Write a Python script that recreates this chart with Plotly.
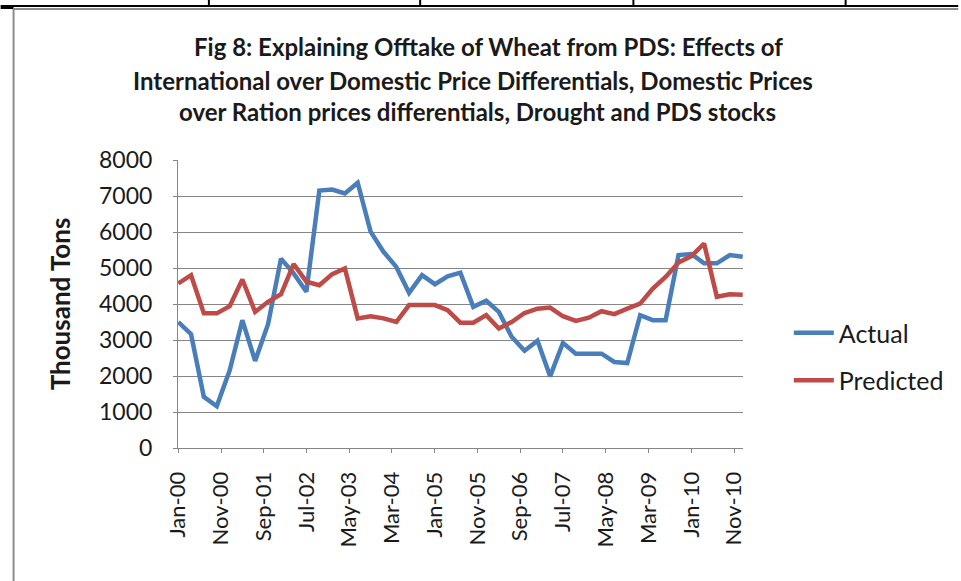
import pandas as pd
import plotly.graph_objects as go

# quarterly observations, Jan-00 .. Jan-11
quarters = pd.date_range("2000-01-01", periods=45, freq="QS")

actual = [3500, 3160, 1420, 1160, 2160, 3550, 2420, 3440, 5260, 4850,
          4340, 7150, 7180, 7070, 7370, 6010, 5450, 5030, 4310, 4800,
          4550, 4770, 4870, 3920, 4090, 3780, 3090, 2700, 2980, 1990,
          2920, 2620, 2620, 2620, 2390, 2360, 3690, 3550, 3550, 5360,
          5390, 5130, 5130, 5360, 5310]

predicted = [4570, 4800, 3740, 3740, 3940, 4680, 3780, 4060, 4270, 5110,
             4620, 4520, 4830, 4990, 3600, 3660, 3600, 3500, 3970, 3970,
             3970, 3830, 3480, 3480, 3690, 3320, 3500, 3750, 3870, 3900,
             3660, 3530, 3620, 3800, 3720, 3870, 4010, 4430, 4750, 5150,
             5330, 5680, 4200, 4270, 4260]

title_lines = [
    "Fig 8: Explaining Offtake of Wheat from PDS: Effects of",
    "International over Domestic Price Differentials, Domestic Prices",
    "over Ration prices differentials, Drought and PDS stocks",
]

W, H = 961, 581
ML, MR, MT, MB = 178, 216, 160, 133
FONT = "Lato, Open Sans, sans-serif"


def px_x(px):
    return (px - ML) / (W - ML - MR)


def px_y(py):
    return 1 - (py - MT) / (H - MT - MB)


fig = go.Figure()
fig.add_trace(go.Scatter(x=quarters, y=actual, name="Actual", mode="lines",
                         legendgroup="a",
                         line=dict(color="#4A7EBB", width=4.5)))
fig.add_trace(go.Scatter(x=quarters, y=predicted, name="Predicted", mode="lines",
                         legendgroup="p",
                         line=dict(color="#BE4B48", width=4.5)))

fig.update_layout(
    width=W, height=H,
    margin=dict(l=ML, r=MR, t=MT, b=MB),
    paper_bgcolor="white", plot_bgcolor="white",
    font=dict(family=FONT, size=20, color="#1a1a1a"),
    showlegend=True,
    legend=dict(x=px_x(791), y=px_y(310), xanchor="left", yanchor="top",
                font=dict(size=25), tracegroupgap=12, itemwidth=40,
                bgcolor="rgba(0,0,0,0)"),
    xaxis=dict(
        type="date",
        range=["1999-12-30", "2011-01-03"],
        tick0="2000-01-01", dtick="M10", tickformat="%b-%y",
        tickangle=-90, ticks="outside", ticklen=4, tickcolor="#868686",
        ticklabelstandoff=10,
        showgrid=False, showline=True, linecolor="#868686", linewidth=1,
        tickfont=dict(size=22),
    ),
    yaxis=dict(
        range=[0, 8000], dtick=1000,
        ticks="outside", ticklen=4, tickcolor="#868686",
        ticklabelstandoff=16,
        showgrid=True, gridcolor="#868686", gridwidth=1,
        showline=True, linecolor="#868686", linewidth=1,
        tickfont=dict(size=23),
        title=dict(text="<b>Thousand Tons</b>", font=dict(size=26), standoff=20),
    ),
)

# three-line bold title
for line, xc, yc in zip(title_lines, [490, 474, 479], [47, 80, 112]):
    fig.add_annotation(
        text=line, xref="paper", yref="paper", x=px_x(xc), y=px_y(yc),
        xanchor="center", yanchor="middle", showarrow=False,
        font=dict(family=FONT, size=24, color="#1a1a1a", weight="bold"),
    )

# surrounding page frame (table rule and chart border)
frame = [
    (0, 6, W, 6, "black", 2),
    (209, 0, 209, 6, "black", 2),
    (421, 0, 421, 6, "black", 2),
    (635, 0, 635, 6, "black", 2),
    (848, 0, 848, 6, "black", 2),
    (0, 8, 13, 8, "black", 2),
    (13, 9, W, 9, "#8c8c8c", 2),
    (13, 9, 13, H, "#8c8c8c", 2),
]
for x0, y0, x1, y1, c, w in frame:
    fig.add_shape(type="line", xref="paper", yref="paper",
                  x0=px_x(x0), y0=px_y(y0), x1=px_x(x1), y1=px_y(y1),
                  line=dict(color=c, width=w))

fig.write_html("out.html", config={"displayModeBar": False},
               post_script="document.body.style.margin='0';")
